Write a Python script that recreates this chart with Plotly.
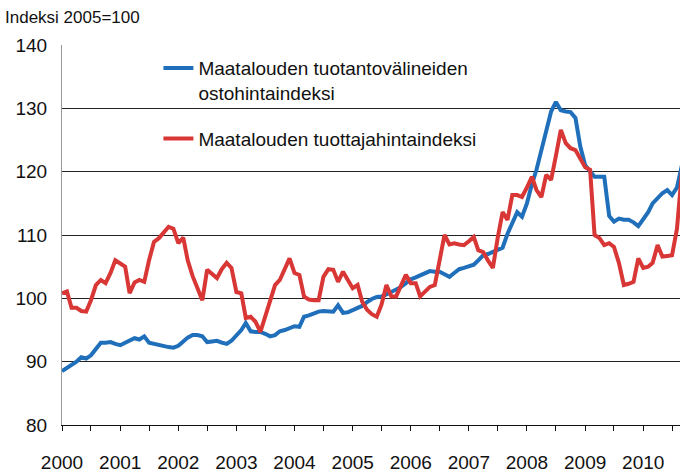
import pandas as pd
import plotly.graph_objects as go

months = pd.date_range("2000-01-01", periods=129, freq="MS")

ostohinta = [
    88.5, 89.0, 89.5, 90.0, 90.7, 90.5, 91.0, 92.0, 93.0, 93.0, 93.1, 92.8,
    92.6, 93.0, 93.3, 93.7, 93.5, 94.0, 93.0, 92.8, 92.6, 92.5, 92.3, 92.2,
    92.5, 93.2, 93.8, 94.2, 94.2, 94.0, 93.1, 93.2, 93.3, 93.0, 92.8, 93.3,
    94.2, 95.0, 96.1, 94.8, 94.7, 94.7, 94.4, 94.0, 94.2, 94.8, 95.0, 95.3,
    95.6, 95.5, 97.1, 97.3, 97.6, 97.9, 98.0, 97.9, 97.9, 98.9, 97.7, 97.8,
    98.2, 98.5, 98.8, 99.4, 99.9, 100.2, 100.3, 100.6, 101.0, 101.3, 101.8, 102.4,
    103.0, 103.3, 103.6, 104.0, 104.3, 104.2, 104.2, 103.8, 103.4, 104.0, 104.6, 104.8,
    105.0, 105.3, 106.0, 106.8, 107.0, 107.3, 107.6, 108.0, 110.2, 111.8, 113.6, 112.9,
    115.0, 118.0, 120.3, 123.4, 126.5, 129.5, 131.0, 129.7, 129.5, 129.4, 128.5, 124.0,
    121.0, 120.0, 119.2, 119.2, 119.2, 113.0, 112.1, 112.6, 112.4, 112.4, 112.0, 111.4,
    112.5, 113.6, 115.0, 115.8, 116.6, 117.1, 116.3, 117.5, 121.0,
]

tuottajahinta = [
    100.8, 101.1, 98.5, 98.5, 98.0, 97.9, 99.7, 102.1, 102.9, 102.4, 104.0, 106.0,
    105.5, 105.0, 100.8, 102.5, 102.9, 102.6, 106.0, 108.9, 109.5, 110.3, 111.3, 111.0,
    108.7, 109.6, 106.0, 103.5, 101.5, 99.7, 104.5, 103.8, 103.2, 104.6, 105.6, 104.8,
    101.0, 100.8, 96.9, 97.1, 96.3, 94.7, 97.0, 99.5, 102.1, 102.9, 104.5, 106.3,
    104.0, 103.7, 100.3, 99.8, 99.7, 99.7, 103.4, 104.6, 104.5, 102.6, 104.2, 103.0,
    101.6, 102.1, 99.5, 98.2, 97.5, 97.1, 99.0, 102.1, 100.3, 100.3, 102.0, 103.7,
    102.4, 102.4, 100.3, 101.0, 101.8, 102.1, 106.0, 110.0, 108.5, 108.7, 108.5, 108.4,
    109.0, 109.7, 107.6, 107.3, 106.0, 104.8, 109.5, 113.6, 112.4, 116.3, 116.3, 116.0,
    117.5, 119.2, 117.1, 116.0, 119.5, 118.7, 122.5, 126.6, 124.5, 123.7, 123.4, 122.0,
    120.7, 120.3, 110.0, 109.5, 108.4, 108.7, 108.1, 105.6, 102.1, 102.3, 102.6, 106.3,
    104.8, 105.0, 105.6, 108.4, 106.6, 106.7, 106.8, 111.0, 120.0,
]

tick_dates = pd.date_range("2000-01-01", "2010-12-31", freq="6MS")
tick_text = [str(d.year) if d.month == 1 else "" for d in tick_dates]

FONT = "Liberation Sans"

fig = go.Figure()
fig.add_trace(go.Scatter(
    x=months, y=ostohinta, mode="lines",
    name="Maatalouden tuotantovälineiden<br>ostohintaindeksi",
    legendgroup="a",
    line=dict(color="#1f6fba", width=4),
))
fig.add_trace(go.Scatter(
    x=months, y=tuottajahinta, mode="lines",
    name="Maatalouden tuottajahintaindeksi",
    legendgroup="b",
    line=dict(color="#d93636", width=4),
))

fig.update_layout(
    width=680, height=473,
    margin=dict(l=62, r=0, t=45, b=48, autoexpand=False),
    paper_bgcolor="white", plot_bgcolor="white",
    font=dict(family=FONT, size=19, color="#111"),
    title=dict(text="Indeksi 2005=100", x=0, xanchor="left",
               y=1 - 17 / 473, yanchor="middle", xref="container", yref="container",
               automargin=False, pad=dict(l=5, r=0, t=0, b=0),
               font=dict(family=FONT, size=17, color="#111")),
    legend=dict(x=0.156, y=0.989, xanchor="left", yanchor="top",
                bgcolor="rgba(0,0,0,0)", font=dict(family=FONT, size=19, color="#111"),
                valign="top", tracegroupgap=18, traceorder="grouped"),
    xaxis=dict(
        range=["2000-01-01", "2010-08-20"],
        tickvals=tick_dates, ticktext=tick_text,
        ticks="outside", ticklen=5, tickcolor="#111", tickwidth=1,
        showline=True, linecolor="#111", linewidth=1,
        showgrid=False, zeroline=False, automargin=False,
        ticklabelstandoff=15,
    ),
    yaxis=dict(
        range=[80, 140], dtick=10, tick0=80,
        showgrid=True, gridcolor="#222", gridwidth=1,
        showline=True, linecolor="#999", linewidth=1,
        zeroline=False, ticks="", ticklabelstandoff=10, automargin=False,
    ),
)

fig.write_html("out.html", config={"displayModeBar": False},
               post_script="document.body.style.margin='0';")
